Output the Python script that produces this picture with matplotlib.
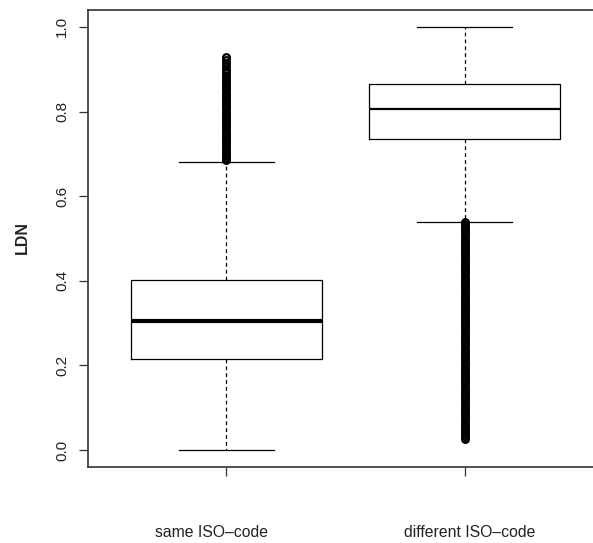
import matplotlib
matplotlib.use("Agg")
import matplotlib.pyplot as plt
import matplotlib.transforms as mtransforms

plt.rcParams['font.family'] = ['Liberation Sans', 'DejaVu Sans']

categories = ["same ISO\u2013code", "different ISO\u2013code"]
medians = [0.305, 0.805]
q1s = [0.215, 0.734]
q3s = [0.403, 0.865]
whis_lo = [0.0, 0.540]
whis_hi = [0.681, 1.0]

fliers_same = [
    0.685, 0.690, 0.695, 0.700, 0.705, 0.710, 0.715, 0.720, 0.725, 0.730,
    0.735, 0.740, 0.745, 0.750, 0.755, 0.760, 0.765, 0.770, 0.775, 0.780,
    0.785, 0.790, 0.795, 0.800, 0.805, 0.810, 0.815, 0.820, 0.825, 0.830,
    0.835, 0.840, 0.845, 0.850, 0.855, 0.860, 0.865, 0.870, 0.875, 0.880,
    0.885, 0.890, 0.895, 0.900, 0.908, 0.915, 0.922, 0.930,
]
fliers_diff = [
    0.026, 0.030, 0.035, 0.040, 0.045, 0.050, 0.055, 0.060, 0.065, 0.070,
    0.075, 0.080, 0.085, 0.090, 0.095, 0.100, 0.105, 0.110, 0.115, 0.120,
    0.125, 0.130, 0.135, 0.140, 0.145, 0.150, 0.155, 0.160, 0.165, 0.170,
    0.175, 0.180, 0.185, 0.190, 0.195, 0.200, 0.205, 0.210, 0.215, 0.220,
    0.225, 0.230, 0.235, 0.240, 0.245, 0.250, 0.255, 0.260, 0.265, 0.270,
    0.275, 0.280, 0.285, 0.290, 0.295, 0.300, 0.305, 0.310, 0.315, 0.320,
    0.325, 0.330, 0.335, 0.340, 0.345, 0.350, 0.355, 0.360, 0.365, 0.370,
    0.375, 0.380, 0.385, 0.390, 0.395, 0.400, 0.405, 0.410, 0.415, 0.420,
    0.425, 0.430, 0.435, 0.440, 0.445, 0.450, 0.455, 0.460, 0.465, 0.470,
    0.475, 0.480, 0.485, 0.490, 0.495, 0.500, 0.505, 0.510, 0.515, 0.520,
    0.525, 0.530, 0.535, 0.540,
]
fliers = [fliers_same, fliers_diff]

yticks = [0.0, 0.2, 0.4, 0.6, 0.8, 1.0]
ytick_labels = ["0.0", "0.2", "0.4", "0.6", "0.8", "1.0"]
ylabel = "LDN"

W, H = 593, 543
fig = plt.figure(figsize=(W / 100, H / 100), dpi=100)
ax = fig.add_axes([88 / W, 76 / H, (603 - 88) / W, (467 - 10) / H])

stats = []
for i in range(2):
    stats.append(dict(med=medians[i], q1=q1s[i], q3=q3s[i],
                      whislo=whis_lo[i], whishi=whis_hi[i],
                      fliers=fliers[i], label=categories[i]))

res = ax.bxp(stats, positions=[1, 2], widths=0.8, capwidths=0.4,
             showfliers=True, patch_artist=False,
             boxprops=dict(color='black', linewidth=0.9),
             whiskerprops=dict(color='black', linewidth=0.9, linestyle=(0, (3, 2.5))),
             capprops=dict(color='black', linewidth=0.9),
             medianprops=dict(color='black', linewidth=3.0),
             flierprops=dict(marker='o', markerfacecolor='none',
                             markeredgecolor='black', markersize=4.8,
                             markeredgewidth=1.6, linestyle='none'))
res['medians'][1].set_linewidth(1.6)

ax.set_xlim(0.42, 2.58)
ax.set_ylim(-0.04, 1.04)

ax.set_yticks(yticks)
ax.set_yticklabels(ytick_labels, rotation=90, va='center', fontsize=11,
                   color='#222222')
ax.set_xticks([1, 2])
ax.set_xticklabels(["", ""])
ax.tick_params(axis='y', length=6.5, width=0.9, pad=7, color='#333333')
ax.tick_params(axis='x', length=6.5, width=0.9, color='#333333')

# category labels sit slightly off the tick centres, as in the reference
trans = mtransforms.blended_transform_factory(ax.transData, ax.transAxes)
label_offsets = [-0.06, 0.02]
for i, lab in enumerate(categories):
    ax.text(i + 1 + label_offsets[i], -0.1444, lab, transform=trans,
            ha='center', va='center', fontsize=11.3, color='#222222')

for s in ax.spines.values():
    s.set_linewidth(1.2)
    s.set_color('#333333')

fig.text(22 / W, 1 - 238 / H, ylabel, rotation=90, ha='center', va='center',
         fontsize=11.5, fontweight='bold', color='#222222')

fig.savefig("out.png", dpi=100)
